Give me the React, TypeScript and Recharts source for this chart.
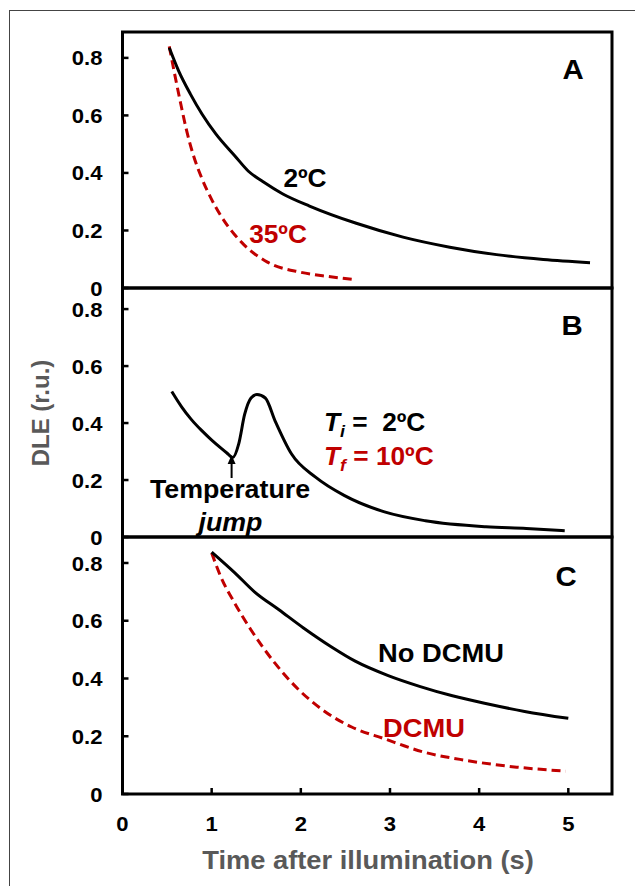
import { LineChart, Line, XAxis, YAxis, ReferenceArea } from 'recharts';

const RED = '#c00000';
const GREY = '#595959';
const FONT = '"Liberation Sans", Arial, Helvetica, sans-serif';
// the source figure is a touch wider than tall, text gets the same stretch
const SX = 1.05;

// panel A: decay at 2ºC and 35ºC
const A_COLD_T = [0.5, 0.6, 0.725, 0.85, 1.0, 1.2, 1.35, 1.5, 1.715, 2.0, 2.5, 3.0, 3.5, 4.0, 4.5, 5.0];
const A_COLD_V = [0.835, 0.755, 0.675, 0.605, 0.535, 0.46, 0.405, 0.37, 0.327, 0.285, 0.225, 0.177, 0.142, 0.116, 0.099, 0.088];
const A_HOT_T = [0.5, 0.56, 0.62, 0.68, 0.75, 0.85, 0.95, 1.05, 1.2, 1.3, 1.55, 1.9, 2.2, 2.5];
const A_HOT_V = [0.84, 0.74, 0.645, 0.555, 0.47, 0.38, 0.31, 0.252, 0.185, 0.15, 0.09, 0.055, 0.04, 0.029];
const A_TICKS = [0.5, 1, 1.5, 2, 2.5, 3, 3.5, 4, 4.5, 5];

// panel B: temperature jump 2ºC -> 10ºC
const B_T = [0.5, 0.6, 0.7, 0.8, 0.9, 1.0, 1.06, 1.12, 1.18, 1.24, 1.305, 1.365, 1.45, 1.55, 1.715, 1.96, 2.25, 2.66, 3.075, 3.69, 4.1, 4.49];
const B_V = [0.511, 0.457, 0.412, 0.375, 0.342, 0.312, 0.295, 0.279, 0.327, 0.43, 0.488, 0.5, 0.488, 0.407, 0.292, 0.21, 0.146, 0.088, 0.057, 0.036, 0.03, 0.022];
const B_TICKS = [0.5, 1, 1.5, 2, 2.5, 3, 3.5, 4, 4.5];

// panel C: with and without DCMU
const C_CTRL_T = [1.0, 1.26, 1.48, 1.755, 2.03, 2.34, 2.61, 2.98, 3.34, 3.7, 4.06, 4.51, 5.0];
const C_CTRL_V = [0.838, 0.766, 0.7, 0.638, 0.575, 0.51, 0.46, 0.41, 0.372, 0.34, 0.314, 0.286, 0.262];
const C_DCMU_T = [1.0, 1.1, 1.26, 1.44, 1.71, 1.98, 2.25, 2.57, 2.93, 3.38, 3.84, 4.42, 4.97];
const C_DCMU_V = [0.835, 0.754, 0.66, 0.569, 0.453, 0.36, 0.29, 0.232, 0.192, 0.145, 0.117, 0.093, 0.079];
const C_TICKS = [0, 1, 2, 3, 4, 5];

const Y_TICKS = [0, 0.2, 0.4, 0.6, 0.8];

const pts = (t: number[], v: number[]) => t.map((x, i) => ({ x, y: v[i] }));

function Stretch({ x, y, anchor = 'start', size, fill = '#000', italic = false, children }: any) {
  return (
    <g transform={`translate(${x},${y}) scale(${SX},1)`}>
      <text
        textAnchor={anchor}
        dy="0.358em"
        fontSize={size}
        fontWeight="bold"
        fontStyle={italic ? 'italic' : 'normal'}
        fontFamily={FONT}
        fill={fill}
      >
        {children}
      </text>
    </g>
  );
}

const YTick = (p: any) => (
  <Stretch x={p.x} y={p.y} anchor="end" size={21}>{p.payload.value}</Stretch>
);
const XTick = (p: any) => (
  <Stretch x={p.x} y={p.y} anchor="middle" size={21}>{p.payload.value}</Stretch>
);

type Series = { data: { x: number; y: number }[]; color: string; dashed?: boolean };

function Panel({ top, height, marginTop, xMax, yMax, xTicks, xAxisHeight, labels, series }: {
  top: number; height: number; marginTop: number; xMax: number; yMax: number;
  xTicks: number[]; xAxisHeight: number; labels: boolean; series: Series[];
}) {
  const tickLine = { stroke: '#000', strokeWidth: 2.5 };
  return (
    <div style={{ position: 'absolute', left: 0, top }}>
      <LineChart width={635} height={height} margin={{ top: marginTop, right: 23, bottom: 0, left: 0 }}>
        <XAxis
          dataKey="x"
          type="number"
          domain={[0, xMax]}
          ticks={xTicks}
          interval={0}
          allowDataOverflow
          axisLine={false}
          tickLine={tickLine}
          tickSize={-6}
          tickMargin={35}
          height={xAxisHeight}
          tick={labels ? <XTick /> : false}
        />
        <YAxis
          type="number"
          domain={[0, yMax]}
          ticks={Y_TICKS}
          interval={0}
          allowDataOverflow
          width={122.5}
          axisLine={false}
          tickLine={tickLine}
          tickSize={-6}
          tickMargin={26}
          tick={<YTick />}
        />
        <ReferenceArea x1={0} x2={xMax} y1={0} y2={yMax} fill="none" stroke="#000" strokeWidth={3} ifOverflow="visible" />
        {series.map((s, i) => (
          <Line
            key={i}
            data={s.data}
            dataKey="y"
            type="monotone"
            stroke={s.color}
            strokeWidth={3}
            strokeDasharray={s.dashed ? '9 5' : undefined}
            dot={false}
            isAnimationActive={false}
          />
        ))}
      </LineChart>
    </div>
  );
}

export default function App() {
  return (
    <div style={{ position: 'absolute', left: 0, top: 0, width: 635, height: 886, background: '#fff', overflow: 'hidden' }}>
      <Panel
        top={0} height={300} marginTop={32} xMax={5.235} yMax={0.89} xTicks={A_TICKS} xAxisHeight={12} labels={false}
        series={[
          { data: pts(A_HOT_T, A_HOT_V), color: RED, dashed: true },
          { data: pts(A_COLD_T, A_COLD_V), color: '#000' },
        ]}
      />
      <Panel
        top={276} height={273} marginTop={12} xMax={4.97} yMax={0.874} xTicks={B_TICKS} xAxisHeight={12} labels={false}
        series={[{ data: pts(B_T, B_V), color: '#000' }]}
      />
      <Panel
        top={525} height={329} marginTop={12} xMax={5.49} yMax={0.89} xTicks={C_TICKS} xAxisHeight={60} labels
        series={[
          { data: pts(C_DCMU_T, C_DCMU_V), color: RED, dashed: true },
          { data: pts(C_CTRL_T, C_CTRL_V), color: '#000' },
        ]}
      />
      <svg width={635} height={886} style={{ position: 'absolute', left: 0, top: 0, pointerEvents: 'none' }}>
        <rect x={9.5} y={10.5} width={700} height={900} fill="none" stroke="#444" strokeWidth={1} />

        <Stretch x={573} y={69} anchor="middle" size={28}>A</Stretch>
        <Stretch x={572} y={325} anchor="middle" size={28}>B</Stretch>
        <Stretch x={566} y={576} anchor="middle" size={28}>C</Stretch>

        <Stretch x={305} y={178} anchor="middle" size={25}>2ºC</Stretch>
        <Stretch x={278} y={234} anchor="middle" size={25} fill={RED}>35ºC</Stretch>

        <Stretch x={324} y={422} size={25}>
          <tspan fontStyle="italic">T</tspan>
          <tspan fontStyle="italic" fontSize={17} dy={6}>i</tspan>
          <tspan dy={-6}>{' =\u00a0 2ºC'}</tspan>
        </Stretch>
        <Stretch x={324} y={456} size={25} fill={RED}>
          <tspan fontStyle="italic">T</tspan>
          <tspan fontStyle="italic" fontSize={17} dy={6}>f</tspan>
          <tspan dy={-6}>{' = 10ºC'}</tspan>
        </Stretch>

        <line x1={231.6} y1={478} x2={231.6} y2={462} stroke="#000" strokeWidth={2} />
        <polygon points="231.6,455 227.6,464 235.6,464" fill="#000" />
        <Stretch x={230} y={488.5} anchor="middle" size={25.5}>Temperature</Stretch>
        <Stretch x={230.5} y={522} anchor="middle" size={25.5} italic>jump</Stretch>

        <Stretch x={441} y={653} anchor="middle" size={26}>No DCMU</Stretch>
        <Stretch x={424} y={728} anchor="middle" size={26} fill={RED}>DCMU</Stretch>

        <Stretch x={368} y={860} anchor="middle" size={26} fill={GREY}>Time after illumination (s)</Stretch>
        <text
          transform="translate(40,413) rotate(-90)"
          textAnchor="middle"
          dy="0.358em"
          fontSize={24}
          fontWeight="bold"
          fontFamily={FONT}
          fill={GREY}
        >
          DLE (r.u.)
        </text>
      </svg>
    </div>
  );
}
